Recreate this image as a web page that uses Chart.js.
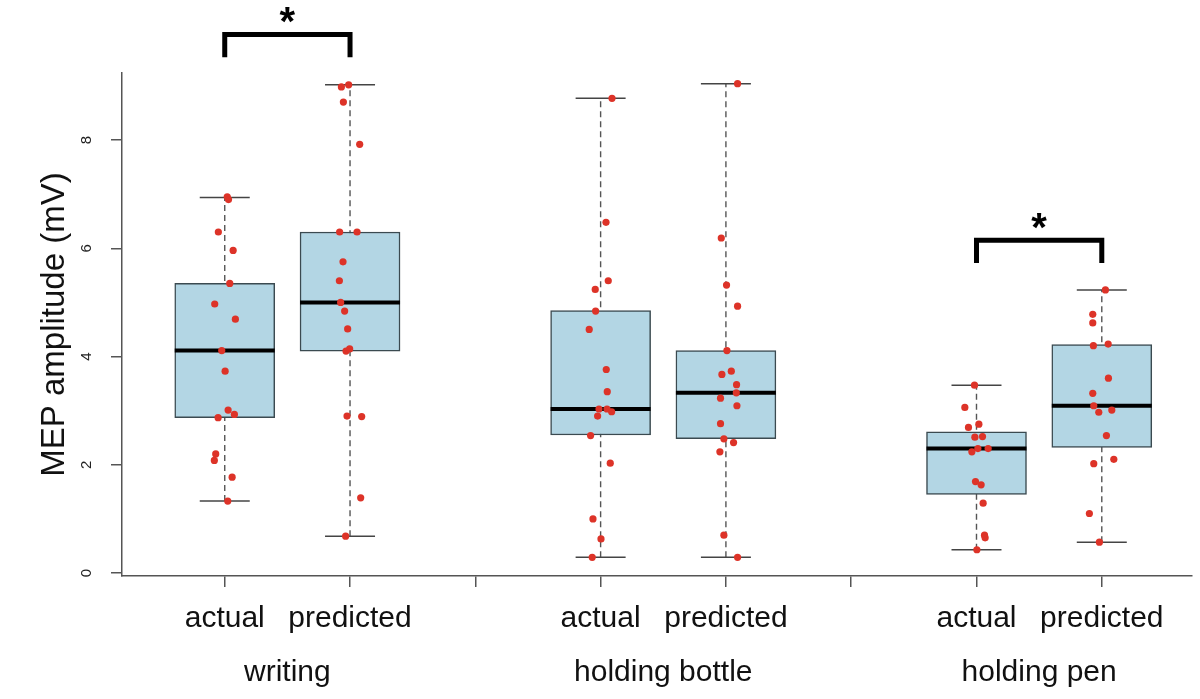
<!DOCTYPE html>
<html>
<head>
<meta charset="utf-8">
<script src="https://cdn.jsdelivr.net/npm/chart.js@4.4.0/dist/chart.umd.min.js"></script>
<style>
  body { margin: 0; background: #fff; }
  #wrap { width: 1200px; height: 699px; }
</style>
</head>
<body>
<div id="wrap"><canvas id="mepChart"></canvas></div>
<script>
// DONNÉES
const groups = ['writing', 'holding bottle', 'holding pen'];
const groupPos = [1.5, 4.5, 7.5];
const boxPos = [1, 2, 4, 5, 7, 8];
const boxLabels = ['actual', 'predicted', 'actual', 'predicted', 'actual', 'predicted'];
const axisTicks = [1, 2, 3, 4, 5, 6, 7, 8];
const yTicks = [0, 2, 4, 6, 8];

// statistiques des boîtes
const q1 = [2.87, 4.10, 2.55, 2.48, 1.45, 2.32];
const median = [4.11, 5.00, 3.03, 3.33, 2.30, 3.09];
const q3 = [5.35, 6.30, 4.85, 4.11, 2.61, 4.22];
const whiskerLow = [1.33, 0.68, 0.29, 0.29, 0.43, 0.57];
const whiskerHigh = [6.94, 9.02, 8.77, 9.04, 3.47, 5.23];

// points individuels (valeur + décalage horizontal)
const writingActual = [6.95, 6.90, 6.30, 5.96, 5.35, 4.97, 4.69, 4.11, 3.73, 3.01, 2.93, 2.87, 2.20, 2.08, 1.77, 1.33];
const writingActualJitter = [0.020, 0.030, -0.051, 0.067, 0.040, -0.080, 0.085, -0.024, 0.003, 0.027, 0.077, -0.053, -0.072, -0.083, 0.059, 0.024];
const writingPredicted = [8.98, 9.02, 8.70, 7.92, 6.30, 6.30, 5.75, 5.40, 5.00, 4.84, 4.51, 4.10, 4.14, 2.90, 2.89, 1.39, 0.68];
const writingPredictedJitter = [-0.069, -0.011, -0.053, 0.077, -0.083, 0.056, -0.056, -0.085, -0.075, -0.043, -0.019, -0.032, -0.003, -0.024, 0.093, 0.085, -0.035];
const bottleActual = [8.77, 6.48, 5.40, 5.24, 4.84, 4.50, 3.76, 3.35, 3.03, 3.03, 2.98, 2.90, 2.54, 2.03, 1.00, 0.63, 0.29];
const bottleActualJitter = [0.091, 0.043, 0.061, -0.043, -0.040, -0.091, 0.045, 0.053, -0.013, 0.051, 0.088, -0.024, -0.080, 0.077, -0.061, 0.003, -0.067];
const bottlePredicted = [9.04, 6.19, 5.32, 4.93, 4.11, 3.67, 3.73, 3.48, 3.33, 3.23, 3.09, 2.76, 2.48, 2.41, 2.24, 0.70, 0.29];
const bottlePredictedJitter = [0.093, -0.037, 0.005, 0.093, 0.008, -0.032, 0.043, 0.085, 0.083, -0.043, 0.088, -0.043, -0.016, 0.061, -0.048, -0.016, 0.093];
const penActual = [3.47, 3.06, 2.75, 2.69, 2.51, 2.52, 2.30, 2.30, 2.24, 1.69, 1.63, 1.29, 0.70, 0.65, 0.43];
const penActualJitter = [-0.016, -0.093, 0.019, -0.064, -0.013, 0.048, 0.011, 0.093, -0.037, -0.008, 0.037, 0.053, 0.064, 0.069, 0.003];
const penPredicted = [5.23, 4.78, 4.62, 4.20, 4.23, 3.60, 3.32, 3.09, 2.97, 3.01, 2.54, 2.02, 2.10, 1.10, 0.57];
const penPredictedJitter = [0.029, -0.072, -0.072, -0.067, 0.051, 0.053, -0.072, -0.064, -0.024, 0.080, 0.037, -0.064, 0.096, -0.099, -0.019];

// crochets de significativité
const sigPairs = [[1, 2], [7, 8]];
const sigTop = [9.95, 6.15];
const sigLeg = 0.42;

const pointSets = [
    [writingActual, writingActualJitter],
    [writingPredicted, writingPredictedJitter],
    [bottleActual, bottleActualJitter],
    [bottlePredicted, bottlePredictedJitter],
    [penActual, penActualJitter],
    [penPredicted, penPredictedJitter]
];

const FONT = '"Liberation Sans", Arial, Helvetica, sans-serif';

// construction des datasets
const datasets = [];

boxPos.forEach((p, i) => {
    datasets.push({
        type: 'line',
        data: [{ x: p, y: whiskerLow[i] }, { x: p, y: whiskerHigh[i] }],
        borderColor: '#555',
        borderWidth: 1.4,
        borderDash: [6, 4],
        pointRadius: 0,
        order: 6
    });
});

datasets.push({
    type: 'bar',
    data: boxPos.map((p, i) => ({ x: p, y: [q1[i], q3[i]] })),
    backgroundColor: '#b3d6e4',
    borderColor: '#3b4a50',
    borderWidth: 1.5,
    borderSkipped: false,
    barThickness: 100,
    order: 5
});

datasets.push({
    type: 'scatter',
    data: boxPos.map((p, i) => ({ x: p, y: whiskerLow[i] }))
        .concat(boxPos.map((p, i) => ({ x: p, y: whiskerHigh[i] }))),
    pointStyle: 'line',
    pointRadius: 25,
    borderColor: '#444',
    borderWidth: 1.5,
    order: 4
});

datasets.push({
    type: 'scatter',
    data: boxPos.map((p, i) => ({ x: p, y: median[i] })),
    pointStyle: 'line',
    pointRadius: 50,
    borderColor: '#000',
    borderWidth: 4,
    order: 3
});

pointSets.forEach(([vals, jit], i) => {
    datasets.push({
        type: 'scatter',
        data: vals.map((v, k) => ({ x: boxPos[i] + jit[k], y: v })),
        pointRadius: 3.6,
        backgroundColor: '#dd3328',
        borderWidth: 0,
        order: 1
    });
});

sigPairs.forEach(([a, b], i) => {
    datasets.push({
        type: 'line',
        data: [
            { x: a, y: sigTop[i] - sigLeg },
            { x: a, y: sigTop[i] },
            { x: b, y: sigTop[i] },
            { x: b, y: sigTop[i] - sigLeg }
        ],
        borderColor: '#000',
        borderWidth: 5,
        borderJoinStyle: 'miter',
        borderCapStyle: 'butt',
        pointRadius: 0,
        clip: false,
        order: 2
    });
});

// étoiles au-dessus des crochets
const starPlugin = {
    id: 'stars',
    afterDatasetsDraw(chart) {
        const { ctx, scales } = chart;
        ctx.save();
        ctx.fillStyle = '#000';
        ctx.font = 'bold 40px ' + FONT;
        ctx.textAlign = 'center';
        ctx.textBaseline = 'alphabetic';
        sigPairs.forEach(([a, b], i) => {
            const x = scales.x.getPixelForValue((a + b) / 2);
            const y = scales.y.getPixelForValue(sigTop[i]);
            ctx.fillText('*', x, y + 1);
        });
        ctx.restore();
    }
};

// pas de marge automatique pour les étiquettes qui débordent
function fixHeight(h) {
    return scale => {
        scale.height = h;
        scale.paddingLeft = 0;
        scale.paddingRight = 0;
    };
}

const ctx = document.getElementById('mepChart').getContext('2d');
new Chart(ctx, {
    type: 'scatter',
    data: { datasets: datasets },
    options: {
        responsive: true,
        maintainAspectRatio: false,
        animation: false,
        layout: { autoPadding: false, padding: { top: 73, right: 8, left: 0, bottom: 0 } },
        plugins: {
            legend: { display: false },
            tooltip: { enabled: false }
        },
        scales: {
            x: {
                type: 'linear',
                min: 0.18,
                max: 8.72,
                offset: false,
                afterBuildTicks: scale => { scale.ticks = axisTicks.map(v => ({ value: v })); },
                afterFit: fixHeight(60),
                grid: { offset: false, drawOnChartArea: false, tickLength: 11, tickColor: '#555', lineWidth: 1.5 },
                border: { display: true, color: '#555', width: 1.5 },
                ticks: {
                    padding: 14,
                    color: '#111',
                    font: { family: FONT, size: 30 },
                    maxRotation: 0,
                    autoSkip: false,
                    callback: value => {
                        const i = boxPos.indexOf(value);
                        return i === -1 ? '' : boxLabels[i];
                    }
                }
            },
            x2: {
                type: 'linear',
                position: 'bottom',
                axis: 'x',
                min: 0.18,
                max: 8.72,
                offset: false,
                afterBuildTicks: scale => { scale.ticks = groupPos.map(v => ({ value: v })); },
                afterFit: fixHeight(63),
                grid: { offset: false, display: false, drawTicks: false },
                border: { display: false },
                ticks: {
                    padding: 19,
                    color: '#111',
                    font: { family: FONT, size: 30 },
                    maxRotation: 0,
                    autoSkip: false,
                    callback: value => groups[groupPos.indexOf(value)]
                }
            },
            y: {
                type: 'linear',
                min: -0.055,
                max: 9.238,
                afterBuildTicks: scale => { scale.ticks = yTicks.map(v => ({ value: v })); },
                afterFit: scale => { scale.width = 122; },
                grid: { drawOnChartArea: false, tickLength: 11, tickColor: '#555', lineWidth: 1.5 },
                border: { display: true, color: '#555', width: 1.5 },
                ticks: {
                    padding: 20,
                    color: '#222',
                    crossAlign: 'center',
                    minRotation: 90,
                    maxRotation: 90,
                    font: { family: FONT, size: 15 }
                },
                title: {
                    display: true,
                    text: 'MEP amplitude (mV)',
                    color: '#111',
                    font: { family: FONT, size: 33 },
                    padding: { top: 35, bottom: 0 }
                }
            }
        }
    },
    plugins: [starPlugin]
});
</script>
</body>
</html>
